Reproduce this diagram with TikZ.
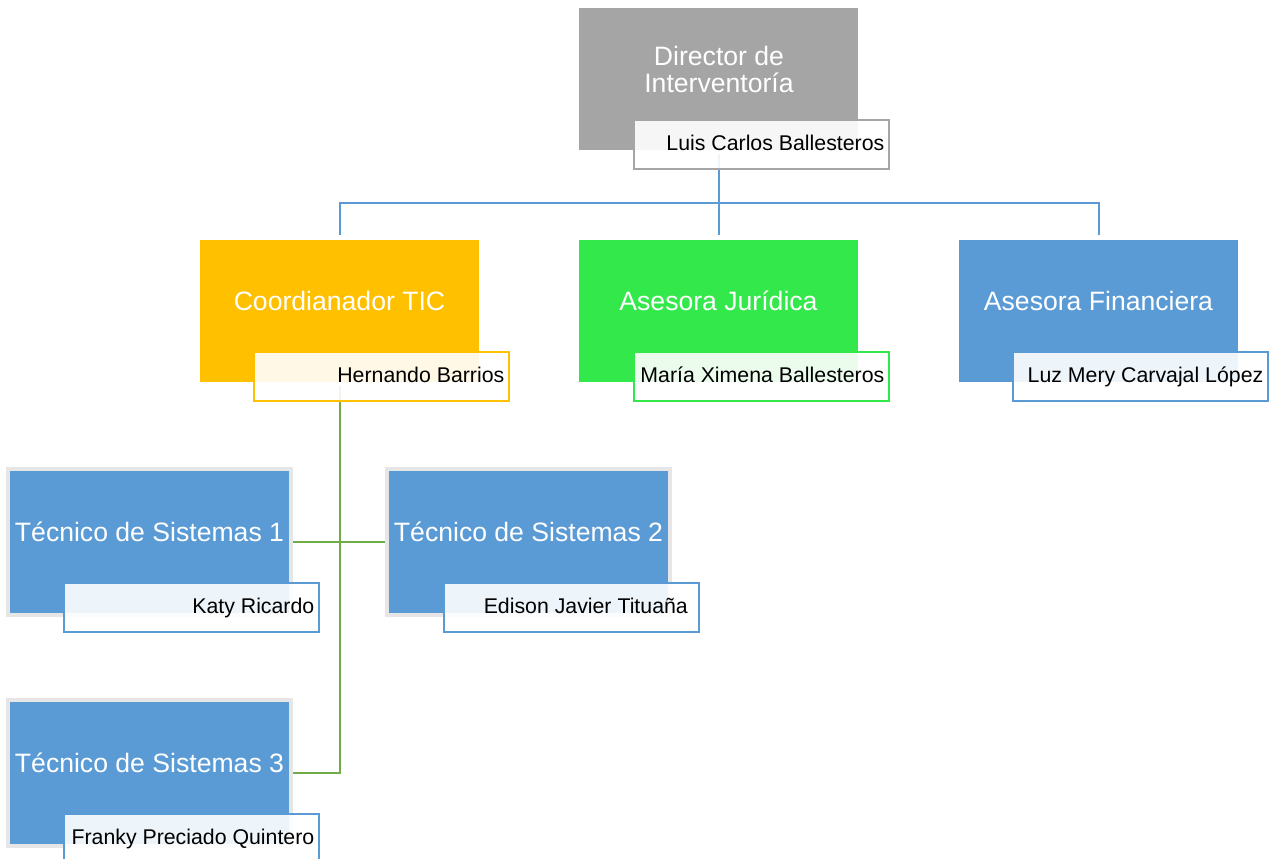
\documentclass[tikz,border=0pt]{standalone}
\usepackage{fontspec}
\setmainfont{Liberation Sans}
\definecolor{cgray}{HTML}{A5A5A5}
\definecolor{cyellow}{HTML}{FFC000}
\definecolor{cgreen}{RGB}{51,232,74}
\definecolor{cblue}{HTML}{5B9BD5}
\definecolor{techgray}{HTML}{E7E6E6}
\definecolor{lgreen}{HTML}{70AD47}
\begin{document}
\begin{tikzpicture}[x=1pt,y=-1pt,
 mainbox/.style={rectangle, anchor=north west, minimum width=279pt, minimum height=142pt, inner sep=0pt, outer sep=0pt},
 techbox/.style={rectangle, anchor=north west, minimum width=283pt, minimum height=146pt, inner sep=0pt, fill=cblue, draw=techgray, line width=4pt},
 namebox/.style={rectangle, anchor=north west, minimum width=255pt, minimum height=49pt, inner sep=0pt, outer sep=0pt, fill=white, fill opacity=0.9, line width=2pt},
 maintext/.style={inner sep=0pt, text=white, align=center, font=\fontsize{26.6pt}{27pt}\selectfont},
 nametext/.style={anchor=base east, inner sep=0pt, text=black, font=\fontsize{21.3pt}{24pt}\selectfont},
 blueline/.style={draw=cblue, line width=2pt},
 greenline/.style={draw=lgreen, line width=2pt}]
\useasboundingbox (0,0) rectangle (1277,859);
\fill[white] (0,0) rectangle (1277,859);
% main boxes
\node[mainbox, fill=cgray] (dir) at (579,8) {};
\node[mainbox, fill=cyellow] (tic) at (200,240) {};
\node[mainbox, fill=cgreen] (jur) at (579,240) {};
\node[mainbox, fill=cblue] (fin) at (959,240) {};
\node[techbox] (t1) at (6,467) {};
\node[techbox] (t2) at (385,467) {};
\node[techbox] (t3) at (6,698) {};
% connectors
\coordinate (bus) at (719,203);
\draw[blueline, shorten <=4pt, shorten >=5pt] (dir.south) -- (jur.north);
\draw[blueline, shorten <=5pt, shorten >=5pt] (tic.north) |- (bus) -| (fin.north);
\draw[greenline, shorten <=4pt] (tic.south) |- (t3.east);
\draw[greenline] (t1.east) -- (t2.west);
% name boxes
\node[namebox, draw=cgray] (ndir) at (634,120) {};
\node[namebox, draw=cyellow] (ntic) at (254,352) {};
\node[namebox, draw=cgreen] (njur) at (634,352) {};
\node[namebox, draw=cblue] (nfin) at (1013,352) {};
\node[namebox, draw=cblue] (nt1) at (64,583) {};
\node[namebox, draw=cblue] (nt2) at (444,583) {};
\node[namebox, draw=cblue] (nt3) at (64,814) {};
% main texts
\node[maintext, anchor=center] (ldir) at (719,69) {Director de\\Interventoría};
\node[maintext, anchor=base] (ltic) at (339.5,310) {Coordianador TIC};
\node[maintext, anchor=base] (ljur) at (718.5,310) {Asesora Jurídica};
\node[maintext, anchor=base] (lfin) at (1098.5,310) {Asesora Financiera};
\node[maintext, anchor=base] (lt1) at (149.5,541) {Técnico de Sistemas 1};
\node[maintext, anchor=base] (lt2) at (528.5,541) {Técnico de Sistemas 2};
\node[maintext, anchor=base] (lt3) at (149.5,772) {Técnico de Sistemas 3};
% name texts
\node[nametext] (pdir) at (884.5,150.5) {Luis Carlos Ballesteros};
\node[nametext] (ptic) at (504.5,382.5) {Hernando Barrios};
\node[nametext] (pjur) at (884.5,382.5) {María Ximena Ballesteros};
\node[nametext] (pfin) at (1263.5,382.5) {Luz Mery Carvajal López};
\node[nametext] (pt1) at (314.5,613.5) {Katy Ricardo};
\node[nametext] (pt2) at (688,613.5) {Edison Javier Tituaña};
\node[nametext] (pt3) at (314.5,844.5) {Franky Preciado Quintero};
\end{tikzpicture}
\end{document}
